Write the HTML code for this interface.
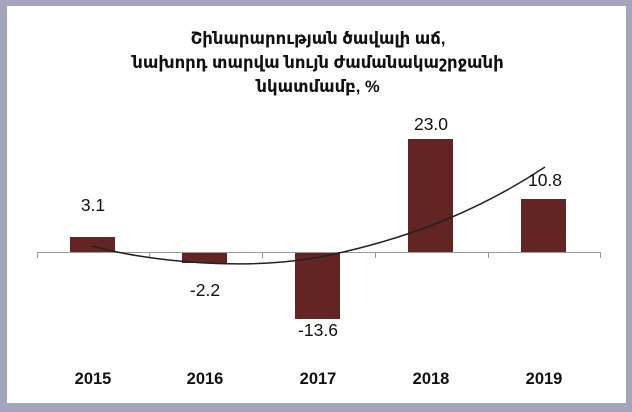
<!DOCTYPE html>
<html><head><meta charset="utf-8"><style>
body{margin:0;width:632px;height:412px;background:#a4a4bd;overflow:hidden}
svg{display:block}
</style></head><body>
<svg width="632" height="412" xmlns="http://www.w3.org/2000/svg" font-family="Liberation Sans, DejaVu Sans, sans-serif">
<rect x="0" y="0" width="632" height="412" fill="#a4a4bd"/>
<rect x="7" y="6" width="619" height="397" fill="#fff"/>
<g font-weight="bold" font-size="16.5" text-anchor="middle" fill="#111">
<text x="318" y="44">Շինարարության ծավալի աճ,</text>
<text x="318" y="68">նախորդ տարվա նույն ժամանակաշրջանի</text>
<text x="318" y="92">նկատմամբ, %</text>
</g>
<g fill="#632424">
<rect x="70" y="237" width="45" height="15"/>
<rect x="182" y="252" width="45" height="11"/>
<rect x="295" y="252" width="45" height="67"/>
<rect x="408" y="139" width="45" height="113"/>
<rect x="521" y="199" width="45" height="53"/>
</g>
<g stroke="#999" stroke-width="1" fill="none">
<line x1="37" y1="252.5" x2="600" y2="252.5"/>
<line x1="37.5" y1="252" x2="37.5" y2="258"/>
<line x1="149.5" y1="252" x2="149.5" y2="258"/>
<line x1="262.5" y1="252" x2="262.5" y2="258"/>
<line x1="375.5" y1="252" x2="375.5" y2="258"/>
<line x1="488.5" y1="252" x2="488.5" y2="258"/>
<line x1="600.5" y1="252" x2="600.5" y2="258"/>
</g>
<path d="M92,246 C150,262 250,272 330,255 S480,210 545,167" stroke="#222" stroke-width="1.5" fill="none"/>
<g font-size="17.5" text-anchor="middle" fill="#111">
<text x="93" y="211">3.1</text>
<text x="205" y="296">-2.2</text>
<text x="318" y="336">-13.6</text>
<text x="431" y="130">23.0</text>
<text x="545" y="186">10.8</text>
</g>
<g font-size="16.5" font-weight="bold" text-anchor="middle" fill="#111">
<text x="93" y="384">2015</text>
<text x="205" y="384">2016</text>
<text x="318" y="384">2017</text>
<text x="431" y="384">2018</text>
<text x="544" y="384">2019</text>
</g>
</svg>
</body></html>
